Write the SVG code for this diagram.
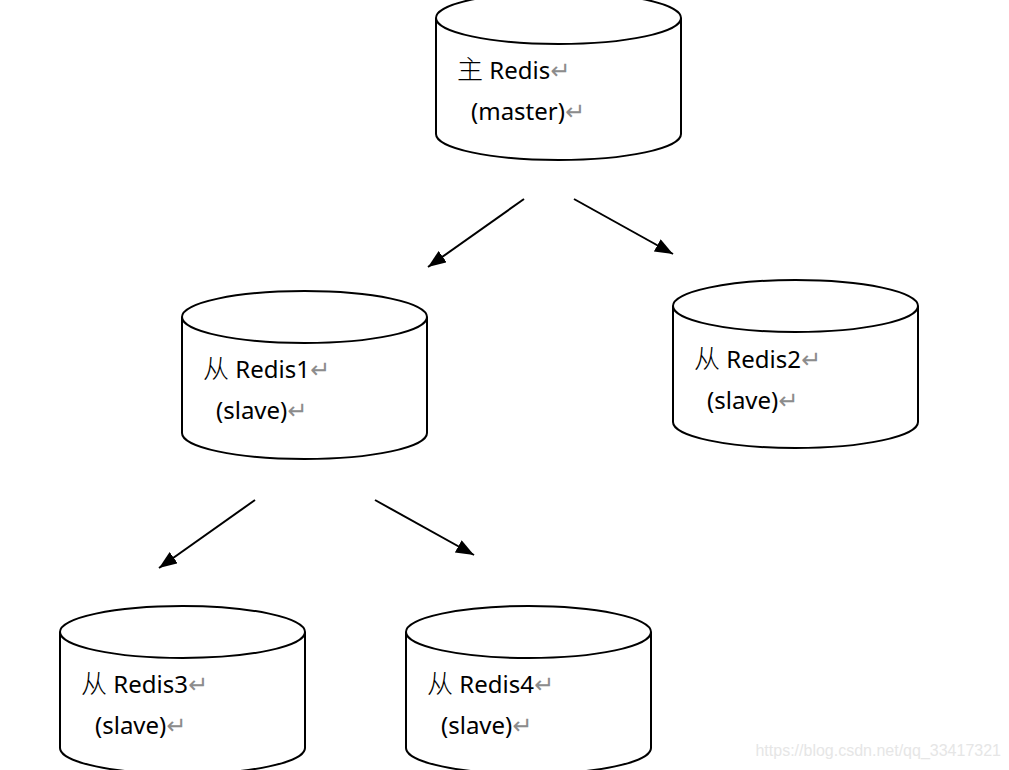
<svg xmlns="http://www.w3.org/2000/svg" xmlns:xlink="http://www.w3.org/1999/xlink" width="1009" height="770" viewBox="0 0 1009 770">
<style>
.cyl{fill:#fff;stroke:#000;stroke-width:2}
.lbl{font-family:"Noto Sans","Noto Sans CJK SC",sans-serif;font-size:24px;fill:#000}
.cn{font-family:"Noto Sans CJK SC",sans-serif;font-weight:300;font-size:26px}
.rt{fill:#8c8c8c;font-family:"DejaVu Sans",sans-serif;font-size:24px}
.conn{stroke:#000;stroke-width:2;fill:none;marker-end:url(#ah)}
.wm{font-family:"Liberation Sans",Arial,sans-serif;font-size:16px;fill:#e6e6e6}
</style>
<defs>
<marker id="ah" markerUnits="userSpaceOnUse" markerWidth="20" markerHeight="16" refX="18" refY="7" orient="auto">
<path d="M0,0 L18,7 L0,14 z" fill="#000"/>
</marker>
<g id="cyl">
<path class="cyl" d="M0,26 V142 A122.5,26 0 0 0 245,142 V26"/>
<ellipse class="cyl" cx="122.5" cy="26" rx="122.5" ry="26"/>
</g>
</defs>
<rect width="1009" height="770" fill="#fff"/>
<g id="master" transform="translate(436,-8)">
<use xlink:href="#cyl"/>
<text class="lbl" x="21" y="87"><tspan class="cn">主</tspan> Redis<tspan class="rt">↵</tspan></text>
<text class="lbl" x="35" y="128">(master)<tspan class="rt">↵</tspan></text>
</g>
<g id="redis1" transform="translate(182,291)">
<use xlink:href="#cyl"/>
<text class="lbl" x="21" y="87"><tspan class="cn">从</tspan> Redis1<tspan class="rt">↵</tspan></text>
<text class="lbl" x="34" y="128">(slave)<tspan class="rt">↵</tspan></text>
</g>
<g id="redis2" transform="translate(673,280)">
<use xlink:href="#cyl"/>
<text class="lbl" x="21" y="88"><tspan class="cn">从</tspan> Redis2<tspan class="rt">↵</tspan></text>
<text class="lbl" x="34" y="129">(slave)<tspan class="rt">↵</tspan></text>
</g>
<g id="redis3" transform="translate(60,606)">
<use xlink:href="#cyl"/>
<text class="lbl" x="21" y="87"><tspan class="cn">从</tspan> Redis3<tspan class="rt">↵</tspan></text>
<text class="lbl" x="35" y="128">(slave)<tspan class="rt">↵</tspan></text>
</g>
<g id="redis4" transform="translate(406,606)">
<use xlink:href="#cyl"/>
<text class="lbl" x="21" y="87"><tspan class="cn">从</tspan> Redis4<tspan class="rt">↵</tspan></text>
<text class="lbl" x="35" y="128">(slave)<tspan class="rt">↵</tspan></text>
</g>
<g id="connectors">
<line class="conn" x1="524" y1="199" x2="428" y2="267"/>
<line class="conn" x1="574" y1="199" x2="673" y2="254"/>
<line class="conn" x1="255" y1="500" x2="159" y2="568"/>
<line class="conn" x1="375" y1="500" x2="474" y2="555"/>
</g>
<text class="wm" x="1001" y="756" text-anchor="end">https://blog.csdn.net/qq_33417321</text>
</svg>
